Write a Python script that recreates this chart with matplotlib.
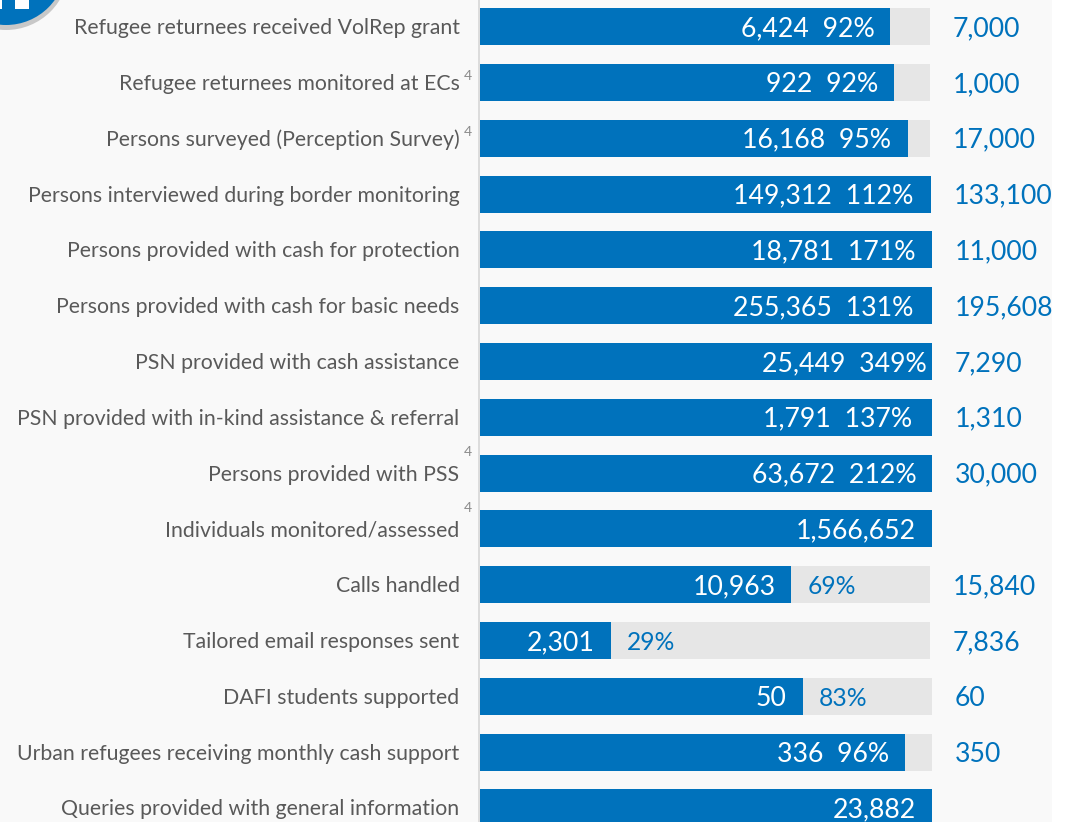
"""Indicator bars: achieved against target."""

import matplotlib
matplotlib.use("Agg")
import matplotlib.pyplot as plt
from matplotlib.patches import Circle, Rectangle

labels = [
    "Refugee returnees received VolRep grant",
    "Refugee returnees monitored at ECs",
    "Persons surveyed (Perception Survey)",
    "Persons interviewed during border monitoring",
    "Persons provided with cash for protection",
    "Persons provided with cash for basic needs",
    "PSN provided with cash assistance",
    "PSN provided with in-kind assistance & referral",
    "Persons provided with PSS",
    "Individuals monitored/assessed",
    "Calls handled",
    "Tailored email responses sent",
    "DAFI students supported",
    "Urban refugees receiving monthly cash support",
    "Queries provided with general information",
]
achieved = ["6,424", "922", "16,168", "149,312", "18,781", "255,365", "25,449",
            "1,791", "63,672", "1,566,652", "10,963", "2,301", "50", "336", "23,882"]
percent = ["92%", "92%", "95%", "112%", "171%", "131%", "349%",
           "137%", "212%", "", "69%", "29%", "83%", "96%", ""]
targets = ["7,000", "1,000", "17,000", "133,100", "11,000", "195,608", "7,290",
           "1,310", "30,000", "", "15,840", "7,836", "60", "350", ""]
# bar lengths, 100 = full track
filled = [91.2, 92.0, 95.0, 100.2, 100.5, 100.4, 100.4,
          100.4, 100.5, 100.5, 69.2, 29.1, 71.7, 94.5, 100.5]
track = [100, 100, 100, 100.2, 100.5, 100.4, 100.4,
         100.4, 100.5, 100.5, 100, 100, 100.5, 100.5, 100.5]
# rows whose label carries a footnote mark, with its lift in pixels
footnotes = {1: 7, 2: 6, 8: 21, 9: 21}
# rows where the inside label sits at another distance from the bar end
inside_pad = {3: 18, 4: 17, 5: 18, 6: 5, 7: 20}

BLUE = "#0072bc"
GREY = "#e6e6e6"
TEXT = "#595959"
W, H = 1070, 822
ROW = 55.8
TOP = 26.7
plt.rcParams["font.family"] = ["Lato", "DejaVu Sans"]

fig = plt.figure(figsize=(W / 100, H / 100), dpi=100, facecolor="white")

# background panel and icon live in a pixel-sized layer
bg = fig.add_axes([0, 0, 1, 1])
bg.set_xlim(0, W)
bg.set_ylim(H, 0)
bg.axis("off")
bg.add_patch(Rectangle((0, 0), 1052, H, color="#f9f9f9", lw=0))
bg.add_patch(Rectangle((478, 0), 2, H, color="#dcdcdc", lw=0))
bg.add_patch(Circle((6, -33), 63, color="#c8c8c8", lw=0))
bg.add_patch(Circle((6, -35), 60, color=BLUE, lw=0))
bg.add_patch(Rectangle((-8, -5), 10, 14, color="white", lw=0))
bg.add_patch(Rectangle((15, -5), 14, 14, color="white", lw=0))

x0 = 480
px = 100 / 450  # 100 on the scale is 450 pixels
ax = fig.add_axes([x0 / W, 0, (W - x0) / W, 1])
ax.patch.set_alpha(0)
ax.set_xlim(0, (W - x0) * px)
ax.set_ylim((H - TOP) / ROW, -TOP / ROW)
ax.axis("off")

for i, label in enumerate(labels):
    ax.barh(i, track[i], height=37 / ROW, color=GREY, lw=0, zorder=1)
    ax.barh(i, filled[i], height=37 / ROW, color=BLUE, lw=0, zorder=2)

    ax.text(-20.5 * px, i + 1.5 / ROW, label, ha="right", va="center", fontsize=15.33,
            color=TEXT, clip_on=False)
    if i in footnotes:
        ax.text(-12 * px, i - footnotes[i] / ROW, "4", ha="center", va="center",
                fontsize=10, color="#8c8c8c", clip_on=False)

    pct = percent[i]
    end = filled[i]
    if pct == "":
        ax.text(end - 16 * px, i + 2 / ROW, achieved[i], ha="right", va="center",
                fontsize=19.2, color="white", zorder=3)
    elif end < 90:
        ax.text(end - 16 * px, i + 2 / ROW, achieved[i], ha="right", va="center",
                fontsize=19.2, color="white", zorder=3)
        ax.text(end + 16 * px, i + 2 / ROW, pct, ha="left", va="center",
                fontsize=17.7, color=BLUE, zorder=3)
    else:
        pad = inside_pad.get(i, 16)
        ax.text(end - pad * px, i + 2 / ROW, f"{achieved[i]}  {pct}", ha="right",
                va="center", fontsize=19.2, color="white", zorder=3)

    if targets[i]:
        ax.text(track[i] + 22.5 * px, i + 2 / ROW, targets[i], ha="left", va="center",
                fontsize=19.2, color=BLUE, clip_on=False)

fig.savefig("out.png", dpi=100, facecolor="white")
